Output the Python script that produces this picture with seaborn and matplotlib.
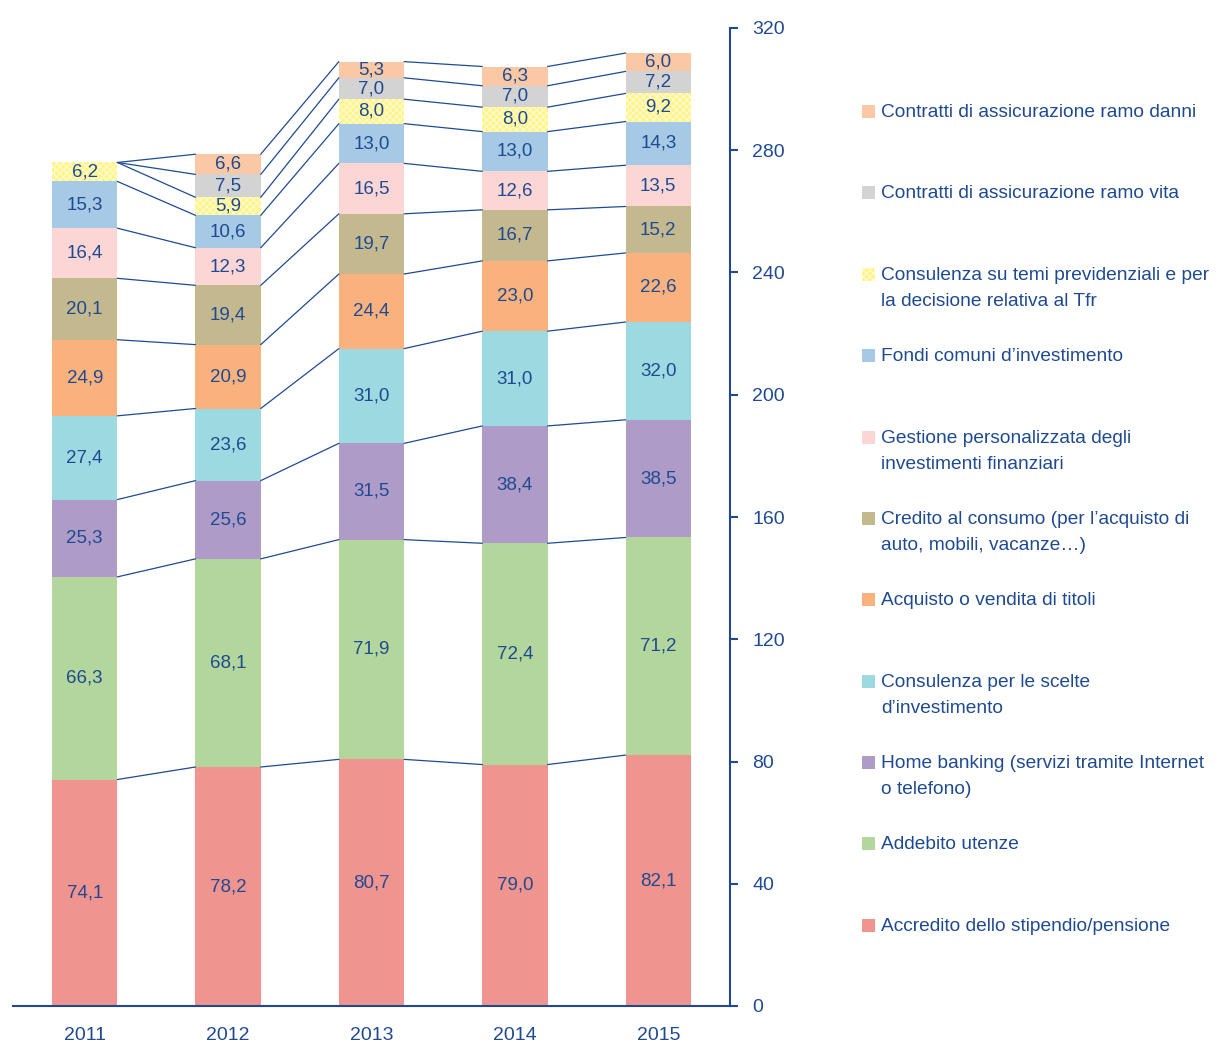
import numpy as np
import pandas as pd
import matplotlib.pyplot as plt
import seaborn as sns
from matplotlib.patches import Rectangle

# data (values in the bars)
years = ["2011", "2012", "2013", "2014", "2015"]

series = [
    "Accredito dello stipendio/pensione",
    "Addebito utenze",
    "Home banking (servizi tramite Internet\no telefono)",
    "Consulenza per le scelte\nd’investimento",
    "Acquisto o vendita di titoli",
    "Credito al consumo (per l’acquisto di\nauto, mobili, vacanze…)",
    "Gestione personalizzata degli\ninvestimenti finanziari",
    "Fondi comuni d’investimento",
    "Consulenza su temi previdenziali e per\nla decisione relativa al Tfr",
    "Contratti di assicurazione ramo vita",
    "Contratti di assicurazione ramo danni",
]

stipendio = [74.1, 78.2, 80.7, 79.0, 82.1]
utenze = [66.3, 68.1, 71.9, 72.4, 71.2]
home_banking = [25.3, 25.6, 31.5, 38.4, 38.5]
consulenza_inv = [27.4, 23.6, 31.0, 31.0, 32.0]
titoli = [24.9, 20.9, 24.4, 23.0, 22.6]
credito = [20.1, 19.4, 19.7, 16.7, 15.2]
gestione = [16.4, 12.3, 16.5, 12.6, 13.5]
fondi = [15.3, 10.6, 13.0, 13.0, 14.3]
previdenza = [6.2, 5.9, 8.0, 8.0, 9.2]
vita = [np.nan, 7.5, 7.0, 7.0, 7.2]
danni = [np.nan, 6.6, 5.3, 6.3, 6.0]

values = [stipendio, utenze, home_banking, consulenza_inv, titoli, credito,
          gestione, fondi, previdenza, vita, danni]

colors = ["#F0948F", "#B2D69B", "#AE9BC7", "#9DD9E0", "#F9B27D", "#C4B88F",
          "#FBD6D4", "#A6C9E5", "#FFF488", "#D3D3D3", "#FAC8A4"]

navy = "#1F4A92"
W, H = 1221, 1046

sns.set_style("white")
plt.rcParams["font.family"] = ["Liberation Sans", "DejaVu Sans"]
plt.rcParams["hatch.linewidth"] = 0.8

# long table with cumulative tops
rows = []
for s, vals in zip(series, values):
    for y, v in zip(years, vals):
        rows.append({"series": s, "year": y, "value": v})
df = pd.DataFrame(rows)
df["value0"] = df["value"].fillna(0)
df["order"] = df["series"].map({s: i for i, s in enumerate(series)})
df = df.sort_values(["year", "order"])
df["top"] = df.groupby("year")["value0"].cumsum()

fig = plt.figure(figsize=(W / 100, H / 100), dpi=100)
ax = fig.add_axes([13 / W, 40 / H, (730 - 13) / W, (1006 - 28) / H])

bw = 0.455
# draw cumulative bars from the top series down so lower ones cover
for k in range(len(series) - 1, -1, -1):
    sub = df[df["series"] == series[k]]
    if k == 8:
        kw = dict(hatch="xxxxx", edgecolor="#FFFBD2")
    else:
        kw = dict(edgecolor=colors[k])
    sns.barplot(data=sub, x="year", y="top", order=years, color=colors[k],
                saturation=1, width=bw, errorbar=None, linewidth=0, ax=ax, **kw)

# connecting lines between bars
for s in series:
    tops = df[df["series"] == s].set_index("year").loc[years, "top"].values
    for i in range(len(years) - 1):
        ax.plot([i + bw / 2, i + 1 - bw / 2], [tops[i], tops[i + 1]],
                color=navy, lw=0.9, zorder=3)

# value labels
for _, r in df.dropna(subset=["value"]).iterrows():
    i = years.index(r["year"])
    ax.text(i, r["top"] - r["value"] / 2, f"{r['value']:.1f}".replace(".", ","),
            ha="center", va="center", color=navy, fontsize=13.5, zorder=4)

ax.set_xlim(-0.5, 4.5)
ax.set_ylim(0, 320)
ax.set_xlabel("")
ax.set_ylabel("")
for side in ["left", "top"]:
    ax.spines[side].set_visible(False)
for side in ["right", "bottom"]:
    ax.spines[side].set_color(navy)
    ax.spines[side].set_linewidth(1.5)

ax.yaxis.tick_right()
ax.set_yticks(np.arange(0, 321, 40))
ax.tick_params(axis="y", length=6, width=1.5, color=navy, labelcolor=navy,
               labelsize=14, pad=10)
ax.set_xticks(range(len(years)))
ax.set_xticklabels(years)
ax.set_xticks(np.arange(-0.5, 5, 1), minor=True)
ax.tick_params(axis="x", which="major", length=0, labelcolor=navy,
               labelsize=14, pad=15)
ax.tick_params(axis="x", which="minor", length=6, width=1.5, color=navy,
               direction="out")

# legend drawn by hand, top entry first
fs = 13.8
legend_y = [111, 192, 274, 355, 437, 518, 599, 681, 762, 843, 925]
for y, k in zip(legend_y, range(len(series) - 1, -1, -1)):
    kw = dict(hatch="xxxxx", edgecolor="#FFFBD2") if k == 8 else dict(edgecolor="none")
    fig.patches.append(Rectangle((862 / W, (H - y - 7) / H), 13 / W, 13 / H,
                                 transform=fig.transFigure, facecolor=colors[k],
                                 lw=0, **kw))
    fig.text(881 / W, (H - y + 0.37 * fs * 1.389) / H, series[k], ha="left",
             va="top", color=navy, fontsize=fs, linespacing=1.68)

fig.savefig("out.png", dpi=100)
